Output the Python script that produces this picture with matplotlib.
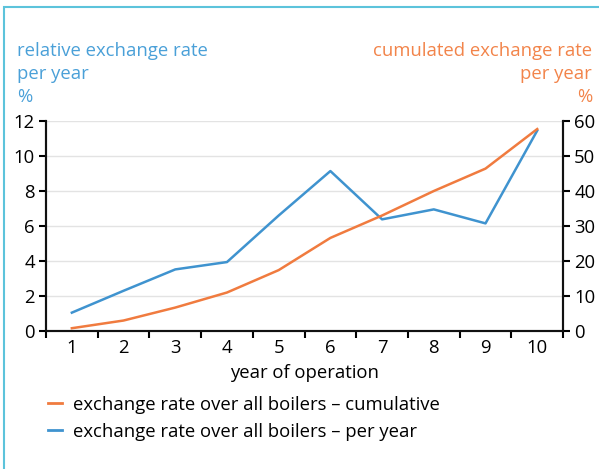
import matplotlib
matplotlib.use("Agg")
import matplotlib.pyplot as plt
from matplotlib.patches import Rectangle

plt.rcParams['font.family'] = ['Open Sans', 'DejaVu Sans']

# data
years = [1, 2, 3, 4, 5, 6, 7, 8, 9, 10]
per_year = [1.05, 2.3, 3.52, 3.94, 6.6, 9.14, 6.38, 6.95, 6.15, 11.45]       # left axis, %
cumulative = [0.8, 3.0, 6.7, 11.0, 17.4, 26.6, 33.0, 40.0, 46.4, 57.7]     # right axis, %

left_ticks = [0, 2, 4, 6, 8, 10, 12]
right_ticks = [0, 10, 20, 30, 40, 50, 60]

blue = "#3f93cf"
orange = "#f07b3f"
blue_txt = "#4aa0d8"
orange_txt = "#f2844a"
fs = 13.3

fig = plt.figure(figsize=(5.99, 4.69), dpi=100)
ax = fig.add_axes([0.0768, 0.2942, 0.8632, 0.4478])
ax2 = ax.twinx()

# light frame around the figure
fig.patches.append(Rectangle((4 / 599, -0.05), 1.1, 1 - 7 / 469 + 0.05,
                             transform=fig.transFigure, fill=False,
                             edgecolor="#5cc3db", linewidth=1.5))

ax.set_ylim(0, 12)
ax.set_yticks(left_ticks)
ax2.set_ylim(0, 60)
ax2.set_yticks(right_ticks)
ax.set_xlim(0.5, 10.5)

for t in left_ticks:
    ax.axhline(t, color="#e3e3e3", linewidth=1, zorder=0)

ax.plot(years, per_year, color=blue, linewidth=1.8, zorder=3)
ax2.plot(years, cumulative, color=orange, linewidth=1.8, zorder=2)

# category ticks between years, labels at centers
ax.set_xticks([y - 0.5 for y in years] + [10.5])
ax.set_xticklabels([])
ax.set_xticks(years, minor=True)
ax.set_xticklabels([str(y) for y in years], minor=True)
ax.tick_params(axis="x", which="major", length=5, width=1.5, direction="out")
ax.tick_params(axis="x", which="minor", length=0, labelsize=fs, pad=6)
ax.tick_params(axis="y", length=5, width=1.5, labelsize=fs, pad=3)
ax2.tick_params(axis="y", length=5, width=1.5, labelsize=fs, pad=3)

for a in (ax, ax2):
    a.spines["top"].set_visible(False)
    for s in ("left", "right", "bottom"):
        a.spines[s].set_linewidth(1.5)
        a.spines[s].set_color("#111111")

ax.set_xlabel("year of operation", fontsize=fs, labelpad=5)

fig.text(17 / 599, 1 - 42 / 469, "relative exchange rate\nper year\n%", color=blue_txt,
         fontsize=fs, ha="left", va="top", linespacing=1.34)
fig.text(592 / 599, 1 - 42 / 469, "cumulated exchange rate\nper year\n%", color=orange_txt,
         fontsize=fs, ha="right", va="top", linespacing=1.34, multialignment="right")

h1, = ax.plot([], [], color=orange, linewidth=2)
h2, = ax.plot([], [], color=blue, linewidth=2)
fig.legend([h1, h2],
           ["exchange rate over all boilers \u2013 cumulative",
            "exchange rate over all boilers \u2013 per year"],
           loc="upper left", bbox_to_anchor=(31 / 599, 1 - 379 / 469),
           frameon=False, fontsize=fs, handlelength=0.8, handletextpad=0.6,
           labelspacing=0.5)

fig.savefig("out.png", dpi=100)
